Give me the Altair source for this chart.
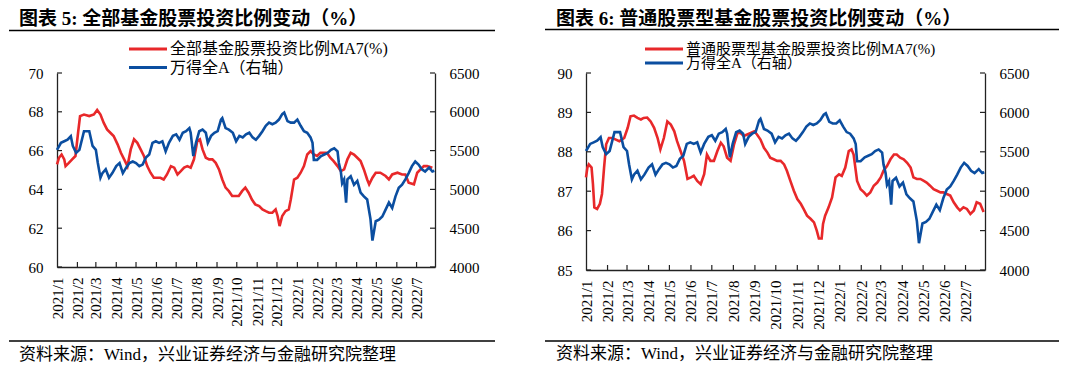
import altair as alt
import pandas as pd

# ---------------- data ----------------
blue_dates = ["2021-01-01","2021-01-07","2021-01-12","2021-01-17","2021-01-22","2021-01-25","2021-01-30","2021-02-04","2021-02-11","2021-02-19","2021-02-24","2021-03-01","2021-03-04","2021-03-08","2021-03-11","2021-03-16","2021-03-21","2021-03-26","2021-04-01","2021-04-06","2021-04-11","2021-04-16","2021-04-21","2021-04-26","2021-05-01","2021-05-06","2021-05-11","2021-05-16","2021-05-21","2021-05-26","2021-05-31","2021-06-05","2021-06-10","2021-06-15","2021-06-20","2021-06-26","2021-07-01","2021-07-06","2021-07-11","2021-07-16","2021-07-21","2021-07-23","2021-07-27","2021-07-31","2021-08-05","2021-08-10","2021-08-15","2021-08-18","2021-08-23","2021-08-28","2021-09-02","2021-09-07","2021-09-09","2021-09-14","2021-09-19","2021-09-25","2021-09-30","2021-10-05","2021-10-10","2021-10-15","2021-10-20","2021-10-25","2021-10-30","2021-11-04","2021-11-09","2021-11-14","2021-11-19","2021-11-24","2021-11-29","2021-12-04","2021-12-09","2021-12-12","2021-12-17","2021-12-22","2021-12-27","2022-01-01","2022-01-06","2022-01-11","2022-01-16","2022-01-21","2022-01-24","2022-01-26","2022-01-31","2022-02-06","2022-02-11","2022-02-16","2022-02-21","2022-02-26","2022-03-03","2022-03-05","2022-03-08","2022-03-10","2022-03-13","2022-03-16","2022-03-18","2022-03-23","2022-03-28","2022-04-02","2022-04-07","2022-04-12","2022-04-17","2022-04-22","2022-04-25","2022-04-30","2022-05-05","2022-05-10","2022-05-15","2022-05-20","2022-05-25","2022-05-30","2022-06-04","2022-06-09","2022-06-14","2022-06-19","2022-06-24","2022-06-29","2022-07-04","2022-07-09","2022-07-14","2022-07-20","2022-07-25","2022-07-28"]
blue_values = [5510,5600,5620,5640,5685,5560,5470,5510,5750,5750,5560,5510,5340,5150,5210,5260,5150,5210,5300,5340,5210,5280,5340,5360,5340,5300,5320,5410,5450,5600,5620,5600,5620,5490,5600,5690,5710,5640,5730,5750,5790,5730,5430,5600,5750,5770,5730,5600,5690,5730,5750,5900,5920,5790,5770,5730,5620,5690,5670,5710,5730,5670,5640,5690,5750,5820,5860,5840,5860,5900,5970,5990,5880,5860,5860,5900,5820,5750,5730,5670,5600,5380,5380,5430,5450,5470,5510,5530,5490,5340,5230,5080,5130,4830,5130,5170,5060,5110,4960,4910,4870,4620,4340,4590,4610,4650,4740,4830,4760,4910,5020,5060,5130,5210,5300,5360,5320,5260,5230,5280,5230,5240]

red5_dates = ["2021-01-01","2021-01-04","2021-01-08","2021-01-12","2021-01-14","2021-01-19","2021-01-24","2021-01-29","2021-02-02","2021-02-05","2021-02-11","2021-02-19","2021-02-26","2021-03-03","2021-03-08","2021-03-13","2021-03-18","2021-03-23","2021-03-28","2021-04-03","2021-04-08","2021-04-13","2021-04-18","2021-04-23","2021-04-28","2021-05-03","2021-05-08","2021-05-13","2021-05-18","2021-05-23","2021-05-28","2021-06-02","2021-06-07","2021-06-12","2021-06-17","2021-06-23","2021-06-28","2021-07-03","2021-07-08","2021-07-13","2021-07-18","2021-07-23","2021-07-28","2021-08-02","2021-08-06","2021-08-10","2021-08-15","2021-08-20","2021-08-25","2021-08-30","2021-09-04","2021-09-09","2021-09-14","2021-09-19","2021-09-24","2021-09-29","2021-10-04","2021-10-09","2021-10-14","2021-10-19","2021-10-24","2021-10-29","2021-11-04","2021-11-09","2021-11-14","2021-11-19","2021-11-24","2021-11-29","2021-12-02","2021-12-05","2021-12-09","2021-12-14","2021-12-19","2021-12-22","2021-12-27","2022-01-01","2022-01-06","2022-01-11","2022-01-16","2022-01-21","2022-01-26","2022-01-31","2022-02-05","2022-02-10","2022-02-15","2022-02-20","2022-02-25","2022-03-03","2022-03-08","2022-03-13","2022-03-18","2022-03-23","2022-03-28","2022-04-02","2022-04-07","2022-04-12","2022-04-17","2022-04-20","2022-04-25","2022-04-30","2022-05-07","2022-05-15","2022-05-20","2022-05-25","2022-06-02","2022-06-09","2022-06-14","2022-06-19","2022-06-27","2022-07-02","2022-07-07","2022-07-12","2022-07-17","2022-07-25"]
red5_values = [65.29,65.63,65.80,65.55,65.20,65.37,65.55,65.72,66.92,67.78,67.86,67.78,67.86,68.09,67.86,67.43,67.09,66.92,66.75,66.32,65.89,65.55,65.20,66.06,66.58,66.40,66.06,65.72,65.20,64.86,64.60,64.60,64.60,64.51,64.77,65.20,65.12,64.77,64.94,65.12,65.20,65.12,65.55,66.49,66.58,66.06,65.63,65.55,65.55,65.37,65.03,64.51,64.09,63.91,63.66,63.66,63.66,63.91,64.09,63.83,63.48,63.23,63.14,62.97,62.88,62.80,62.80,62.97,62.63,62.11,62.63,62.88,62.97,63.48,64.51,64.60,64.86,65.20,65.80,65.97,65.80,65.72,65.89,65.89,65.89,65.63,65.46,65.20,64.94,65.03,65.55,65.89,65.80,65.63,65.46,65.03,64.51,64.26,64.60,64.86,64.86,64.69,64.51,64.77,64.86,64.77,64.77,64.34,64.26,64.86,65.03,65.20,65.20,65.12]

red6_dates = ["2021-01-01","2021-01-03","2021-01-05","2021-01-09","2021-01-11","2021-01-13","2021-01-17","2021-01-21","2021-01-24","2021-01-27","2021-01-30","2021-02-03","2021-02-08","2021-02-13","2021-02-18","2021-02-25","2021-03-02","2021-03-06","2021-03-11","2021-03-16","2021-03-21","2021-03-25","2021-03-30","2021-04-04","2021-04-09","2021-04-14","2021-04-18","2021-04-23","2021-04-28","2021-05-03","2021-05-08","2021-05-12","2021-05-17","2021-05-22","2021-05-27","2021-06-01","2021-06-05","2021-06-10","2021-06-15","2021-06-20","2021-06-24","2021-06-29","2021-07-04","2021-07-09","2021-07-14","2021-07-18","2021-07-23","2021-07-28","2021-08-02","2021-08-07","2021-08-11","2021-08-16","2021-08-21","2021-08-26","2021-08-31","2021-09-04","2021-09-09","2021-09-14","2021-09-19","2021-09-23","2021-09-28","2021-10-03","2021-10-08","2021-10-13","2021-10-17","2021-10-22","2021-10-27","2021-11-01","2021-11-06","2021-11-10","2021-11-15","2021-11-20","2021-11-25","2021-11-29","2021-12-02","2021-12-06","2021-12-08","2021-12-11","2021-12-16","2021-12-21","2021-12-26","2021-12-31","2022-01-04","2022-01-09","2022-01-14","2022-01-18","2022-01-21","2022-01-26","2022-01-31","2022-02-05","2022-02-09","2022-02-14","2022-02-19","2022-02-24","2022-03-01","2022-03-05","2022-03-10","2022-03-15","2022-03-20","2022-03-24","2022-03-29","2022-04-03","2022-04-08","2022-04-13","2022-04-17","2022-04-22","2022-04-27","2022-05-02","2022-05-06","2022-05-11","2022-05-16","2022-05-21","2022-05-26","2022-05-30","2022-06-04","2022-06-09","2022-06-14","2022-06-19","2022-06-23","2022-06-28","2022-07-03","2022-07-08","2022-07-13","2022-07-17","2022-07-22","2022-07-27"]
red6_values = [87.35,87.60,87.68,87.60,87.18,86.59,86.55,86.68,86.93,87.60,88.19,88.35,88.35,88.31,88.27,88.35,88.61,88.90,88.92,88.86,88.82,88.86,88.87,88.77,88.61,88.35,88.06,88.35,88.77,88.69,88.52,88.27,88.02,87.77,87.31,87.35,87.39,87.26,87.18,87.43,87.93,87.77,87.77,88.02,88.23,88.14,87.85,87.77,88.19,88.48,88.48,88.40,88.44,88.48,88.52,88.44,88.31,88.10,87.98,87.85,87.81,87.77,87.77,87.68,87.52,87.26,87.01,86.80,86.68,86.55,86.38,86.30,86.21,86.00,85.80,85.80,86.17,86.38,86.59,86.84,87.35,87.43,87.39,87.60,88.02,88.06,87.93,87.26,87.05,86.97,86.89,86.97,87.14,87.22,87.35,87.52,87.64,87.81,87.93,87.93,87.85,87.81,87.72,87.60,87.35,87.31,87.31,87.26,87.22,87.14,87.05,87.01,86.97,86.97,86.93,86.89,86.72,86.59,86.51,86.59,86.55,86.42,86.51,86.72,86.68,86.47]

month_ticks = ["2021-01-01","2021-02-01","2021-03-01","2021-04-01","2021-05-01","2021-06-01","2021-07-01","2021-08-01","2021-09-01","2021-10-01","2021-11-01","2021-12-01","2022-01-01","2022-02-01","2022-03-01","2022-04-01","2022-05-01","2022-06-01","2022-07-01"]
left5_ticks = [60, 62, 64, 66, 68, 70]
left6_ticks = [85, 86, 87, 88, 89, 90]
right_ticks = [4000, 4500, 5000, 5500, 6000, 6500]

title5 = "图表 5:  全部基金股票投资比例变动（%）"
title6 = "图表 6:  普通股票型基金股票投资比例变动（%）"
legend5 = "全部基金股票投资比例MA7(%)"
legend6 = "普通股票型基金股票投资比例MA7(%)"
legend_blue = "万得全A（右轴）"
source = "资料来源：Wind，兴业证券经济与金融研究院整理"

RED = "#E8282A"
BLUE = "#0B4EA0"
AX = "#222222"
FONT = "Liberation Serif, Noto Sans CJK SC"

blue_df = pd.DataFrame({"date": blue_dates, "v": blue_values})
red5_df = pd.DataFrame({"date": red5_dates, "v": red5_values})
red6_df = pd.DataFrame({"date": red6_dates, "v": red6_values})
tick_df = pd.DataFrame({"date": month_ticks[1:]})
one = pd.DataFrame({"d": [0]})


def dt(s):
    y, m, d = s.split("-")
    return alt.DateTime(year=int(y), month=int(m), date=int(d))


xscale = alt.Scale(domain=[dt("2021-01-01"), dt("2022-07-29")])
rscale = alt.Scale(domain=[4000, 6500], nice=False, zero=False)
xaxis = alt.Axis(values=[dt(s) for s in month_ticks], format="%Y/%-m",
                 labelAngle=270, labelFont=FONT, labelFontSize=15,
                 labelColor="#000000", labelPadding=10, ticks=False,
                 grid=False, domainColor=AX, domainWidth=1.3,
                 labelOverlap=False, title=None)


def text(t, x, y, size, bold=False):
    return alt.Chart(one).mark_text(
        text=t, align="left", baseline="middle", font=FONT, fontSize=size,
        fontWeight="bold" if bold else "normal", color="#000000"
    ).encode(x=alt.value(x), y=alt.value(y))


def hrule(x1, x2, y, color="#000000", w=1.3):
    return alt.Chart(one).mark_rule(color=color, strokeWidth=w).encode(
        x=alt.value(x1), x2=alt.value(x2), y=alt.value(y))


def yaxis(vals, orient):
    return alt.Axis(values=vals, orient=orient, ticks=False, grid=False,
                    format="d", labelFont=FONT, labelFontSize=15,
                    labelColor="#000000", labelPadding=14, domainColor=AX,
                    domainWidth=1.3, title=None)


def panel(W, H, red_df, ydom, yticks, title, leg, g, lfs):
    lscale = alt.Scale(domain=ydom, nice=False, zero=False)
    X = alt.X("date:T", scale=xscale, axis=xaxis)
    red_line = alt.Chart(red_df).mark_line(color=RED, strokeWidth=2.6).encode(
        x=X, y=alt.Y("v:Q", scale=lscale, axis=yaxis(yticks, "left")))
    blue_line = alt.Chart(blue_df).mark_line(color=BLUE, strokeWidth=2.6).encode(
        x=X, y=alt.Y("v:Q", scale=rscale, axis=yaxis(right_ticks, "right")))
    xt = alt.Chart(tick_df).mark_rule(color=AX, strokeWidth=1.2).encode(
        x=X, y=alt.value(H - 5), y2=alt.value(H))
    lt = alt.Chart(pd.DataFrame({"v": yticks})).mark_rule(color=AX, strokeWidth=1.2).encode(
        y=alt.Y("v:Q", scale=lscale, axis=None), x=alt.value(0), x2=alt.value(5))
    rt = alt.Chart(pd.DataFrame({"v": right_ticks})).mark_rule(color=AX, strokeWidth=1.2).encode(
        y=alt.Y("v:Q", scale=rscale, axis=None), x=alt.value(W - 5), x2=alt.value(W))

    decor = [
        text(title, g["tx"], -54, 19, bold=True),
        hrule(g["rx1"], g["rx2"], g["ry"], w=1.5),
        alt.Chart(one).mark_rule(color=RED, strokeWidth=3).encode(
            x=alt.value(g["lx1"]), x2=alt.value(g["lx2"]), y=alt.value(g["ly1"])),
        alt.Chart(one).mark_rule(color=BLUE, strokeWidth=3).encode(
            x=alt.value(g["lx1"]), x2=alt.value(g["lx2"]), y=alt.value(g["ly2"])),
        text(leg, g["lx2"] + 3, g["ly1"], lfs),
        text(legend_blue, g["lx2"] + 3, g["ly2"], lfs),
        hrule(g["rx1"], g["rx2"], g["by"], w=1.5),
        text(source, g["tx"], g["sy"], 17),
    ]
    return alt.layer(red_line, blue_line, xt, lt, rt, *decor).resolve_scale(
        y="independent").properties(width=W, height=H)


g5 = dict(tx=-38, rx1=-48, rx2=438, ry=-42.5, lx1=72, lx2=110,
          ly1=-24, ly2=-5.5, by=268, sy=282)
g6 = dict(tx=-30, rx1=-41, rx2=473, ry=-43.5, lx1=59, lx2=97,
          ly1=-24, ly2=-10, by=268, sy=281)

p5 = panel(378, 194, red5_df, [60, 70], left5_ticks, title5, legend5, g5, 16)
p6 = panel(399, 197, red6_df, [85, 90], left6_ticks, title6, legend6, g6, 15)

chart = alt.hconcat(p5, p6, spacing=48).properties(
    padding={"left": 0, "top": 2, "right": 0, "bottom": 0}).configure_view(
    stroke=None)

chart.save("out.html", embed_options={"renderer": "svg", "actions": False})
